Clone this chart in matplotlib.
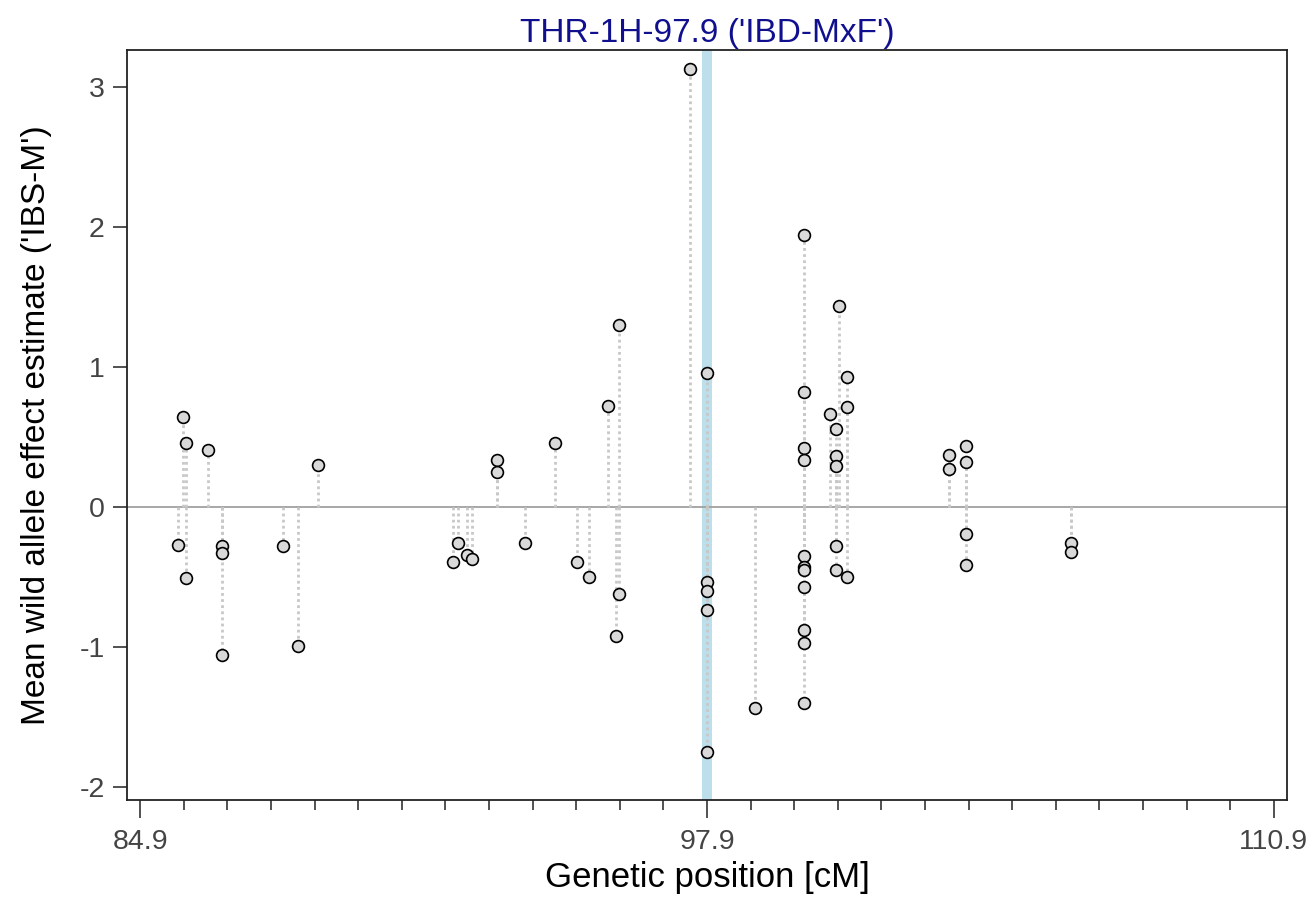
import numpy as np
import matplotlib
matplotlib.use('Agg')
import matplotlib.pyplot as plt
from matplotlib.ticker import FixedLocator

plt.rcParams['font.family'] = ['Liberation Sans', 'DejaVu Sans']
plt.rcParams['axes.unicode_minus'] = False

# marker positions (cM) and mean wild allele effect estimates
pos = [85.77, 85.89, 85.96, 85.96, 86.46, 86.78, 86.78, 86.78, 88.18, 88.53, 88.99,
       92.07, 92.19, 92.40, 92.51, 93.09, 93.09, 93.72, 94.41, 94.91, 95.20,
       95.63, 95.89, 95.89, 95.82,
       97.51, 97.90, 97.90, 97.90, 97.90, 97.90, 99.01,
       100.13, 100.13, 100.13, 100.13, 100.13, 100.13, 100.13, 100.13, 100.13, 100.13, 100.13,
       100.72, 100.85, 100.85, 100.85, 100.85, 100.85, 100.92, 101.12, 101.12, 101.12,
       103.45, 103.45, 103.84, 103.84, 103.84, 103.84, 106.25, 106.25]
effect = [-0.27, 0.64, 0.46, -0.51, 0.41, -0.28, -0.33, -1.06, -0.28, -0.99, 0.30,
          -0.39, -0.26, -0.34, -0.37, 0.336, 0.25, -0.26, 0.455, -0.39, -0.50,
          0.72, 1.30, -0.62, -0.92,
          3.13, 0.954, -0.536, -0.604, -0.733, -1.747, -1.436,
          1.945, 0.82, 0.42, 0.338, -0.35, -0.426, -0.45, -0.574, -0.879, -0.969, -1.402,
          0.662, 0.555, 0.364, 0.295, -0.28, -0.45, 1.436, 0.926, 0.712, -0.498,
          0.374, 0.271, 0.433, 0.324, -0.195, -0.414, -0.255, -0.32]

qtl_pos = 97.9
xticks = [84.9, 97.9, 110.9]
yticks = [-2, -1, 0, 1, 2, 3]

fig = plt.figure(figsize=(13.11, 9.13), dpi=100)
ax = fig.add_axes([0.0969, 0.1238, 0.8848, 0.8215])

ax.axvspan(qtl_pos - 0.12, qtl_pos + 0.12, color='#add8e6', alpha=0.8, lw=0, zorder=0)
ax.axhline(0, color='#a0a0a0', lw=1.3, zorder=1)
ax.vlines(pos, 0, effect, colors='#c8c8c8', linestyles=(0, (1, 1.2)), lw=2, zorder=2)
ax.plot(pos, effect, 'o', ms=8.5, mfc='#d9d9d9', mec='black', mew=1.2, ls='none', zorder=3)

ax.set_xlim(84.6, 111.2)
ax.set_ylim(-2.093, 3.264)
ax.set_xticks(xticks)
ax.set_xticklabels(['84.9', '97.9', '110.9'])
ax.xaxis.set_minor_locator(FixedLocator(np.arange(84.9, 111.0, 1.0)))
ax.set_yticks(yticks)

ax.tick_params(axis='both', which='major', labelsize=20.5, colors='#333333', labelcolor='#444444', width=1.2)
ax.tick_params(axis='x', which='major', length=13, pad=8)
ax.tick_params(axis='x', which='minor', length=7, width=1.2, color='#333333')
ax.tick_params(axis='y', which='major', length=10, pad=6)
for sp in ax.spines.values():
    sp.set_linewidth(1.3)
    sp.set_color('#222222')

ax.set_title("THR-1H-97.9 ('IBD-MxF')", color='#10108f', fontsize=24, pad=6)
ax.set_xlabel('Genetic position [cM]', fontsize=25, labelpad=4)
ax.set_ylabel("Mean wild allele effect estimate ('IBS-M')", fontsize=24, labelpad=20)

fig.savefig('out.png', dpi=100)
